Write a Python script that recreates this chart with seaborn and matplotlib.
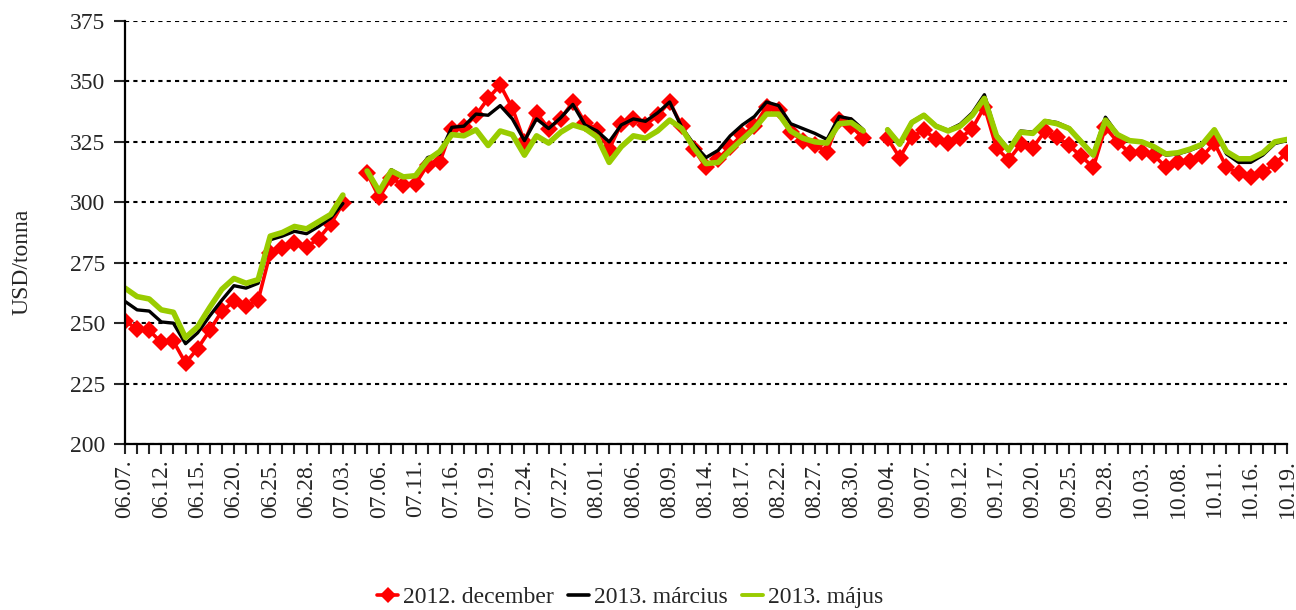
import numpy as np
import pandas as pd
import matplotlib.pyplot as plt
from matplotlib.lines import Line2D
import seaborn as sns

# =========================
# DATA (USD/tonna, napi jegyzések)
# =========================
DATES = [
    "06.07.", "06.08.", "06.11.", "06.12.", "06.13.", "06.14.", "06.15.", "06.18.", "06.19.", "06.20.",
    "06.21.", "06.22.", "06.25.", "06.26.", "06.27.", "06.28.", "06.29.", "07.02.", "07.03.", "07.04.",
    "07.05.", "07.06.", "07.09.", "07.10.", "07.11.", "07.12.", "07.13.", "07.16.", "07.17.", "07.18.",
    "07.19.", "07.20.", "07.23.", "07.24.", "07.25.", "07.26.", "07.27.", "07.30.", "07.31.", "08.01.",
    "08.02.", "08.03.", "08.06.", "08.07.", "08.08.", "08.09.", "08.10.", "08.13.", "08.14.", "08.15.",
    "08.16.", "08.17.", "08.20.", "08.21.", "08.22.", "08.23.", "08.24.", "08.27.", "08.28.", "08.29.",
    "08.30.", "08.31.", "09.03.", "09.04.", "09.05.", "09.06.", "09.07.", "09.10.", "09.11.", "09.12.",
    "09.13.", "09.14.", "09.17.", "09.18.", "09.19.", "09.20.", "09.21.", "09.24.", "09.25.", "09.26.",
    "09.27.", "09.28.", "10.01.", "10.02.", "10.03.", "10.04.", "10.05.", "10.08.", "10.09.", "10.10.",
    "10.11.", "10.12.", "10.15.", "10.16.", "10.17.", "10.18.", "10.19.",
]

DEC_2012 = [
    251, 247.5, 247, 242, 242.5, 233.5, 239.5, 247, 255, 259,
    257, 259.5, 279, 281, 283, 281.5, 285, 291, 299.5, np.nan,
    312, 302, 310, 307, 307.5, 315.5, 316.5, 330.5, 331, 336,
    343, 348.5, 339, 325, 337, 330.5, 334.5, 341.5, 333, 330,
    322, 332.5, 334.5, 332, 336, 341.5, 331.5, 322, 314.5, 318,
    323, 328, 331.5, 339.5, 338, 329, 325.5, 323.5, 321, 334,
    331.5, 326.5, np.nan, 326.5, 318.5, 327, 330, 326, 324.5, 326.5,
    330.5, 339.5, 322.5, 317.5, 324, 322.5, 329.5, 327, 323.5, 319,
    314.5, 331, 325, 320.5, 321, 319.5, 314.5, 316.5, 317, 319,
    324.5, 314.5, 312, 310.5, 312.5, 316, 320.5,
]

MAR_2013 = [
    259, 255.5, 255, 250.5, 250, 241.5, 246, 253, 259.5, 265.5,
    264.5, 266.5, 284.5, 286, 288, 287, 290, 293.5, 299.5, np.nan,
    313.5, 304.5, 313.5, 310.5, 311, 318.5, 320, 331, 331.5, 336.5,
    336, 340, 334.5, 325.5, 334.5, 330.5, 335, 340.5, 332, 329.5,
    325, 332, 334.5, 333.5, 337, 341.5, 331, 324, 318.5, 321.5,
    327.5, 332, 335.5, 341.5, 340, 332.5, 330.5, 328.5, 326, 335.5,
    334.5, 330, np.nan, 330.3, 324.3, 333.3, 336.3, 331.8, 329.8, 332.3,
    337, 344.5, 328, 322, 329.5, 329, 333.8, 333, 330.8, 325.3,
    320, 335.2, 328.2, 325.5, 325, 322.5, 319.5, 320, 321.5, 323.5,
    329.8, 320, 316.5, 316.5, 319.5, 324.3, 325.5,
]

MAJ_2013 = [
    264.5, 261, 260, 255.5, 254.5, 244, 248.5, 256.5, 264, 268.5,
    266.5, 268, 286, 287.5, 290, 289, 292, 295, 303, np.nan,
    313, 304.5, 313, 310.5, 311, 317.5, 321, 328, 327.5, 330,
    323.5, 329.5, 328, 319.5, 327.5, 324.5, 329, 332, 330.5, 327,
    316.5, 323, 327.5, 326.5, 329.5, 334, 330.5, 322.5, 316, 316.5,
    321.5, 326, 330.5, 336.5, 336.5, 329.5, 326.5, 325, 324.5, 332.5,
    333, 329.5, np.nan, 330, 324, 333, 336, 331.5, 329.5, 331.5,
    336, 343, 327.5, 321.5, 329, 328.5, 333.5, 332.5, 330.5, 325,
    319.5, 334, 328, 325.5, 325, 323, 320, 320.5, 322, 324,
    330, 321, 318, 318, 320.5, 325, 326,
]

SERIES = ["2012. december", "2013. március", "2013. május"]
COLORS = ["#FF0000", "#000000", "#99CC00"]

# =========================
# LONG TABLE (szakaszok a hiányzó napoknál)
# =========================
frames = []
for name, vals in zip(SERIES, [DEC_2012, MAR_2013, MAJ_2013]):
    s = pd.Series(vals, dtype=float)
    d = pd.DataFrame({"idx": np.arange(len(s)), "value": s, "series": name})
    d["seg"] = s.isna().cumsum()
    frames.append(d.dropna(subset=["value"]))
df = pd.concat(frames, ignore_index=True)

# =========================
# PLOT
# =========================
sns.set_style("white")
plt.rcParams["font.family"] = ["Liberation Serif", "DejaVu Serif"]

W, H = 1296, 610
FS = 17
fig = plt.figure(figsize=(W / 100, H / 100), dpi=100)
ax = fig.add_axes([125 / W, 1 - 444 / H, (1287 - 125) / W, (444 - 21) / H])

styles = {
    "2012. december": dict(lw=2.6, marker="D", markersize=9, markeredgewidth=0, zorder=3),
    "2013. március": dict(lw=2.4, zorder=4),
    "2013. május": dict(lw=4.0, zorder=5),
}

for name, col in zip(SERIES, COLORS):
    sub = df[df["series"] == name]
    sns.lineplot(data=sub, x="idx", y="value", units="seg", estimator=None,
                 color=col, ax=ax, legend=False, **styles[name])

ax.set_xlim(0, len(DATES) - 1)
ax.set_ylim(200, 375)
ax.set_yticks(np.arange(200, 376, 25))
ax.yaxis.grid(True, color="black", linestyle=(0, (2, 2)), linewidth=1.5)
ax.xaxis.grid(False)

ax.set_xticks(np.arange(len(DATES)))
ax.set_xticklabels([d if i % 3 == 0 else "" for i, d in enumerate(DATES)], rotation=90)

for side in ["top", "right"]:
    ax.spines[side].set_visible(False)
for side in ["left", "bottom"]:
    ax.spines[side].set_color("black")
    ax.spines[side].set_linewidth(1.6)
    ax.spines[side].set_zorder(6)

ax.tick_params(axis="y", direction="out", length=8, width=1.5, pad=6, labelsize=FS, left=True)
ax.tick_params(axis="x", direction="out", length=7, width=1.5, pad=4, labelsize=FS, bottom=True)
ax.set_xlabel("")
ax.set_ylabel("")

fig.text(22 / W, 1 - 262 / H, "USD/tonna", rotation=90, ha="center", va="center", fontsize=FS)

handles = [
    Line2D([], [], color=COLORS[0], lw=2.6, marker="D", markersize=8, markeredgewidth=0),
    Line2D([], [], color=COLORS[1], lw=2.6),
    Line2D([], [], color=COLORS[2], lw=2.8),
]
fig.legend(handles, SERIES, loc="center", bbox_to_anchor=(630 / W, 1 - 597 / H), ncol=3,
           frameon=False, fontsize=FS, handlelength=0.9, handletextpad=0.2, columnspacing=0.6)

fig.savefig("out.png", dpi=100)
plt.close(fig)
